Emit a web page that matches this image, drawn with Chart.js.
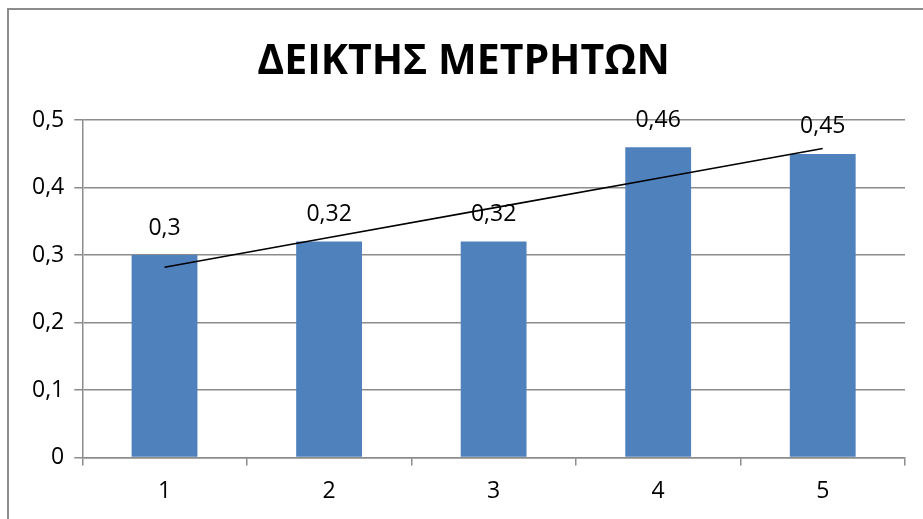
<!DOCTYPE html>
<html>
<head>
<meta charset="utf-8">
<script src="https://cdn.jsdelivr.net/npm/chart.js@4.4.1/dist/chart.umd.min.js"></script>
<style>
  html, body { margin:0; padding:0; background:#fff; overflow:hidden; }
  #wrap { position:relative; width:923px; height:519px; }
  #frame { position:absolute; left:7px; top:8px; width:960px; height:560px; border:2px solid #8c8c8c; box-sizing:border-box; }
  canvas { position:absolute; left:0; top:0; }
</style>
</head>
<body>
<div id="wrap">
  <div id="frame"></div>
  <canvas id="chart" width="923" height="519"></canvas>
</div>
<script>
// dados do gráfico
const categorias = ['1', '2', '3', '4', '5'];
const valores = [0.3, 0.32, 0.32, 0.46, 0.45];
const tituloTexto = 'ΔΕΙΚΤΗΣ ΜΕΤΡΗΤΩΝ';

// linha de tendência linear (mínimos quadrados sobre os valores)
function tendencia(ys) {
  const n = ys.length;
  const xs = ys.map((_, i) => i + 1);
  const mx = xs.reduce((s, v) => s + v, 0) / n;
  const my = ys.reduce((s, v) => s + v, 0) / n;
  let num = 0, den = 0;
  xs.forEach((x, i) => { num += (x - mx) * (ys[i] - my); den += (x - mx) * (x - mx); });
  const b = num / den;
  return xs.map(x => my + b * (x - mx));
}

const fmt = v => String(Math.round(v * 100) / 100).replace('.', ',');

// rótulos de valor acima das barras
const rotulos = {
  id: 'rotulos',
  afterDatasetsDraw(chart) {
    const ctx = chart.ctx;
    const meta = chart.getDatasetMeta(1);
    ctx.save();
    ctx.font = '23px "Open Sans", sans-serif';
    ctx.fillStyle = '#000';
    ctx.textAlign = 'center';
    ctx.textBaseline = 'middle';
    meta.data.forEach((bar, i) => {
      ctx.fillText(fmt(valores[i]), bar.x, bar.y - 27);
    });
    ctx.restore();
  }
};

new Chart(document.getElementById('chart').getContext('2d'), {
  data: {
    labels: categorias,
    datasets: [
      { type: 'line', data: tendencia(valores), borderColor: '#000', borderWidth: 1.6, pointRadius: 0, fill: false, order: 0 },
      { type: 'bar', data: valores, backgroundColor: '#4F81BD', barPercentage: 0.4, categoryPercentage: 1, order: 1 }
    ]
  },
  options: {
    responsive: false,
    animation: false,
    layout: { padding: { left: 22, right: 18, top: 0, bottom: 2 } },
    plugins: {
      legend: { display: false },
      tooltip: { enabled: false },
      title: {
        display: true,
        text: tituloTexto,
        color: '#000',
        font: { family: '"Open Sans", sans-serif', size: 41, weight: 'bold' },
        padding: { top: 38, bottom: 33 }
      }
    },
    scales: {
      x: {
        offset: true,
        grid: { offset: true, drawOnChartArea: false, color: '#8c8c8c', tickLength: 8, lineWidth: 1.5 },
        border: { color: '#8c8c8c', width: 1.5 },
        ticks: { color: '#000', font: { family: '"Open Sans", sans-serif', size: 23 }, padding: 12 }
      },
      y: {
        min: 0, max: 0.5,
        grid: { color: '#8c8c8c', tickLength: 8, lineWidth: 1.5 },
        border: { color: '#8c8c8c', width: 1.5 },
        ticks: { stepSize: 0.1, color: '#000', padding: 10, font: { family: '"Open Sans", sans-serif', size: 23 },
          callback: v => fmt(v) }
      }
    }
  },
  plugins: [rotulos]
});
</script>
</body>
</html>
